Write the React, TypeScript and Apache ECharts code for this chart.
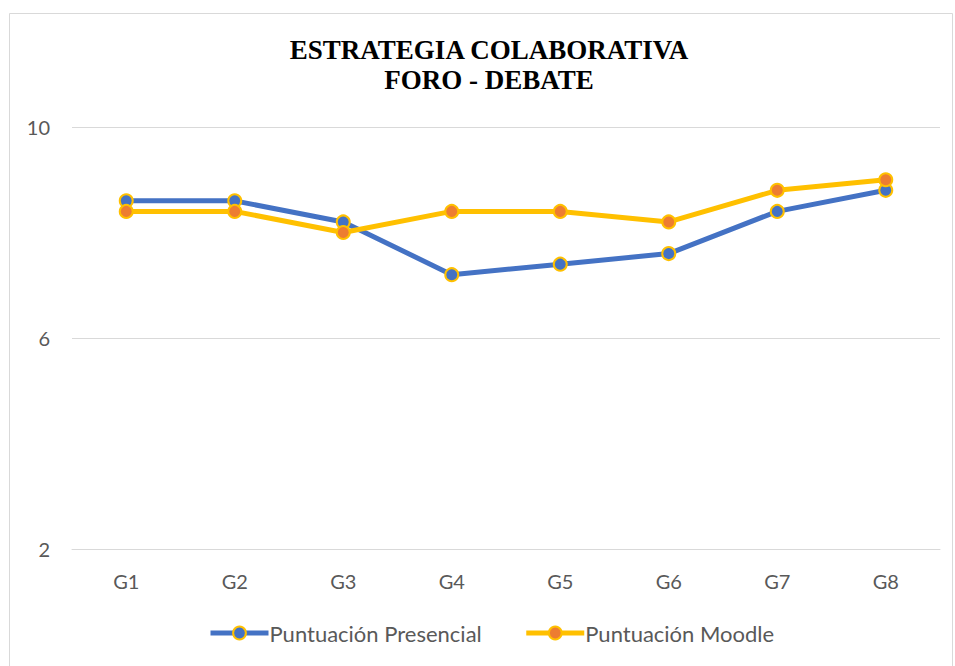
import React, { useEffect, useRef } from "react";
import * as echarts from "echarts";

const categories = ["G1", "G2", "G3", "G4", "G5", "G6", "G7", "G8"];
const presencial = [8.6, 8.6, 8.2, 7.2, 7.4, 7.6, 8.4, 8.8];
const moodle = [8.4, 8.4, 8.0, 8.4, 8.4, 8.2, 8.8, 9.0];
const titleLines = ["ESTRATEGIA COLABORATIVA", "FORO - DEBATE"];

export default function App() {
  const ref = useRef<HTMLDivElement>(null);
  useEffect(() => {
    if (!ref.current) return;
    const chart = echarts.init(ref.current, undefined, { renderer: "svg" });
    const labelFont = "Lato, 'Open Sans', sans-serif";
    chart.setOption({
      animation: false,
      backgroundColor: "#ffffff",
      graphic: [
        {
          type: "rect",
          shape: { x: 9.5, y: 13.5, width: 943, height: 660 },
          style: { fill: "none", stroke: "#d9d9d9", lineWidth: 1 },
          silent: true,
        },
        {
          type: "text",
          x: 489,
          y: 35,
          silent: true,
          style: {
            text: titleLines.join("\n"),
            align: "center",
            verticalAlign: "top",
            fontFamily: "'Liberation Serif', 'Times New Roman', serif",
            fontWeight: "bold",
            fontSize: 27,
            lineHeight: 30,
            fill: "#000000",
          },
        },
      ],
      grid: { left: 72, right: 15, top: 127, bottom: 117 },
      xAxis: {
        type: "category",
        data: categories,
        boundaryGap: true,
        axisLine: { show: true, lineStyle: { color: "#d9d9d9" } },
        axisTick: { show: false },
        axisLabel: { color: "#595959", fontSize: 20, fontFamily: labelFont, margin: 22 },
      },
      yAxis: {
        type: "value",
        min: 2,
        max: 10,
        interval: 4,
        axisLine: { show: false },
        axisTick: { show: false },
        splitLine: { lineStyle: { color: "#d9d9d9", width: 1 } },
        axisLabel: { color: "#595959", fontSize: 20, fontFamily: labelFont, margin: 22 },
      },
      legend: {
        bottom: 17,
        left: 203,
        itemWidth: 58,
        itemHeight: 16,
        itemGap: 42,
        lineStyle: { width: 5 },
        textStyle: { color: "#595959", fontSize: 22, fontFamily: labelFont, padding: [0, 0, 0, -4] },
        data: ["Puntuación Presencial", "Puntuación Moodle"],
      },
      series: [
        {
          name: "Puntuación Presencial",
          type: "line",
          data: presencial,
          symbol: "circle",
          symbolSize: 13,
          lineStyle: { color: "#4472C4", width: 5 },
          itemStyle: { color: "#4472C4", borderColor: "#FFC000", borderWidth: 2 },
          z: 2,
        },
        {
          name: "Puntuación Moodle",
          type: "line",
          data: moodle,
          symbol: "circle",
          symbolSize: 13,
          lineStyle: { color: "#FFC000", width: 5 },
          itemStyle: { color: "#ED7D31", borderColor: "#FFC000", borderWidth: 2 },
          z: 3,
        },
      ],
    });
    return () => chart.dispose();
  }, []);
  return (
    <div
      ref={ref}
      style={{ position: "fixed", left: 0, top: 0, width: 955, height: 666 }}
    />
  );
}
